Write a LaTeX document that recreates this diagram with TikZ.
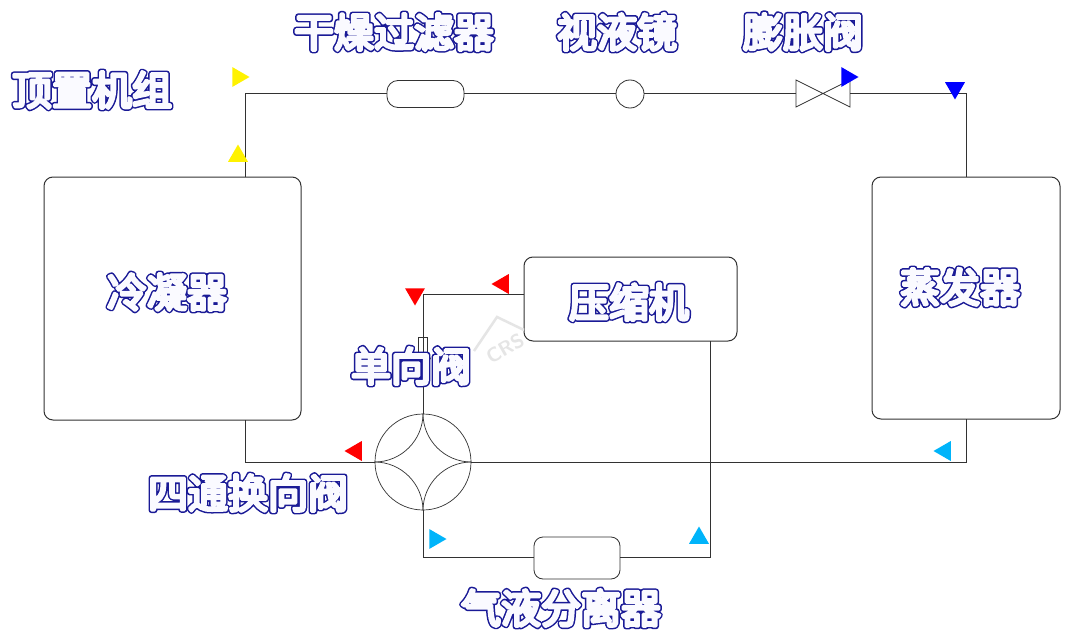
\documentclass[tikz,border=0pt]{standalone}
\usepackage{fontspec}
\usetikzlibrary{shapes.geometric,calc}
\newfontfamily\bubOuter[FakeBold=15]{Noto Sans CJK SC}
\newfontfamily\bubInner[FakeBold=7.5]{Noto Sans CJK SC}
\definecolor{bubblue}{RGB}{26,26,150}
\definecolor{pipe}{RGB}{50,50,50}
\definecolor{bubfill}{RGB}{250,250,255}
\definecolor{sky}{RGB}{0,180,250}
\newcommand{\bub}[1]{\fontsize{40}{40}\selectfont\rlap{\bubOuter\color{bubblue}#1}{\bubInner\color{bubfill}#1}}
\tikzset{
  pipeline/.style={draw=pipe,line width=1pt},
  box/.style={draw=pipe,line width=1pt,rounded corners=9pt,minimum width=0pt,inner sep=0pt,fill=white},
  lbl/.style={inner sep=0pt,text=bubblue},
  tri/.style={regular polygon,regular polygon sides=3,inner sep=0pt,minimum size=23pt,draw=none},
  tup/.style={tri,shape border rotate=0},
  tdown/.style={tri,shape border rotate=180},
  tleft/.style={tri,shape border rotate=90},
  tright/.style={tri,shape border rotate=-90},
  thinline/.style={draw=pipe,line width=0.7pt}
}
\begin{document}
\begin{tikzpicture}[x=1pt,y=-1pt]
\useasboundingbox (0,0) rectangle (1080,642);
\fill[white] (0,0) rectangle (1080,642);
% boxes
\node[box,minimum width=257pt,minimum height=243pt] (cond) at (172.5,298.5) {};
\node[box,minimum width=188pt,minimum height=242pt] (evap) at (966,298) {};
\node[box,minimum width=213pt,minimum height=84pt] (comp) at (630.5,299) {};
\node[draw=pipe,line width=0.8pt,rounded corners=11pt,minimum width=77pt,minimum height=27pt,inner sep=0pt] (filter) at (425.5,94) {};
\node[draw=pipe,line width=0.8pt,circle,minimum size=28pt,inner sep=0pt] (glass) at (630,94) {};
\node[draw=pipe,line width=0.8pt,rounded corners=9pt,minimum width=86pt,minimum height=42pt,inner sep=0pt] (sep) at (577,558) {};
\node[draw=pipe,line width=0.7pt,circle,minimum size=96pt,inner sep=0pt] (four) at (423,462) {};
\coordinate (vl) at (796,94);
\coordinate (vr) at (850,94);
% expansion valve
\draw[thinline] (796,80) -- (850,107) -- (850,80) -- (796,107) -- cycle;
% four way inner arcs
\draw[thinline] (four.north) .. controls +(0,26.4) and (401.4,462) .. (four.west);
\draw[thinline] (four.north) .. controls +(0,26.4) and (444.6,462) .. (four.east);
\draw[thinline] (four.south) .. controls +(0,-26.4) and (401.4,462) .. (four.west);
\draw[thinline] (four.south) .. controls +(0,-26.4) and (444.6,462) .. (four.east);
% pipes
\coordinate (c1) at (245,177);
\coordinate (c2) at (245,420);
\coordinate (e1) at (966,177);
\coordinate (e2) at (966,419);
\coordinate (ctop) at (710,341);
\draw[pipeline] (c1) -- (245,94) -- (filter.west);
\draw[pipeline] (filter.east) -- (glass.west);
\draw[pipeline] (glass.east) -- (vl);
\draw[pipeline] (vr) -- (966,94) -- (e1);
\draw[pipeline] (c2) -- (245,462) -- (four.west);
\draw[pipeline] (four.east) -- (966,462) -- (e2);
\draw[pipeline] (four.north) -- (423,294) -- (comp.west |- 423,294);
\draw[pipeline] (four.south) -- (423,557) -- (sep.west |- 423,557);
\draw[pipeline] (sep.east |- 423,557) -- (710,557) -- (ctop);
% watermark
\draw[black!10,line width=2.5pt] (474,351) -- (497,317) -- (524,330);
\node[rotate=30,text=black!10,font=\sffamily\bfseries\fontsize{20}{20}\selectfont,inner sep=0pt] (mark) at (505,348) {CRS};
% check valve
\draw[thinline] (418.5,337) rectangle (427,360);
\draw[thinline] (415,360) -- (423,373) -- (430.5,358) -- cycle;
% triangles
\node[tright,fill=yellow] (a1) at (238,77) {};
\node[tup,fill=yellow] (a2) at (238,156) {};
\node[tright,fill=blue] (a3) at (847,77) {};
\node[tdown,fill=blue] (a4) at (955,88) {};
\node[tleft,fill=sky] (a5) at (945,451) {};
\node[tleft,fill=red] (a6) at (356,451) {};
\node[tdown,fill=red] (a7) at (415,294) {};
\node[tleft,fill=red] (a8) at (503,284) {};
\node[tright,fill=sky] (a9) at (435,539) {};
\node[tup,fill=sky] (a10) at (699,538) {};
% labels
\begin{scope}[line join=round,line cap=round]
\node[lbl] (l1) at (92,90) {\bub{顶置机组}};
\node[lbl] (l2) at (394,32) {\bub{干燥过滤器}};
\node[lbl] (l3) at (617,32) {\bub{视液镜}};
\node[lbl] (l4) at (803,32) {\bub{膨胀阀}};
\node[lbl] (l5) at (167,292) {\bub{冷凝器}};
\node[lbl] (l6) at (960,287) {\bub{蒸发器}};
\node[lbl] (l7) at (629,302) {\bub{压缩机}};
\node[lbl] (l8) at (411,366) {\bub{单向阀}};
\node[lbl] (l9) at (248,493) {\bub{四通换向阀}};
\node[lbl] (l10) at (561,608) {\bub{气液分离器}};
\end{scope}
\end{tikzpicture}
\end{document}
